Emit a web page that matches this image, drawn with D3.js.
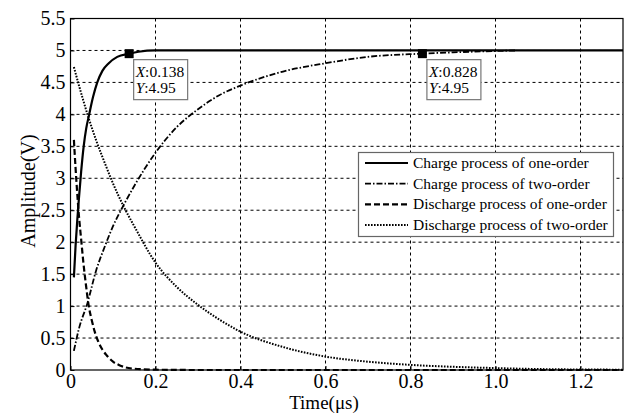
<!DOCTYPE html>
<html><head><meta charset="utf-8">
<script src="https://cdn.jsdelivr.net/npm/d3@7"></script>
<style>body{margin:0;background:#fff}svg{display:block}text{font-family:"Liberation Serif","Times New Roman",serif;fill:#000}</style>
</head><body><svg id="c" width="631" height="415"></svg>
<script>
// ---- data ----
const xTicks = [0, 0.2, 0.4, 0.6, 0.8, 1.0, 1.2];
const xTickLabels = ["0", "0.2", "0.4", "0.6", "0.8", "1.0", "1.2"];
const yTicks = [0, 0.5, 1, 1.5, 2, 2.5, 3, 3.5, 4, 4.5, 5, 5.5];
const yTickLabels = ["0", "0.5", "1", "1.5", "2", "2.5", "3", "3.5", "4", "4.5", "5", "5.5"];
const seriesNames = ["Charge process of one-order", "Charge process of two-order", "Discharge process of one-order", "Discharge process of two-order"];

const chargeOneT = [0.008, 0.012, 0.016, 0.020, 0.025, 0.031, 0.037, 0.044, 0.053, 0.063, 0.075, 0.09, 0.11, 0.138, 0.16, 0.2, 1.3];
const chargeOneV = [1.45, 1.95, 2.35, 2.7, 3.1, 3.5, 3.78, 4.0, 4.27, 4.5, 4.68, 4.8, 4.9, 4.95, 4.98, 5.0, 5.0];

const chargeTwoT = [0.008, 0.02, 0.04, 0.06, 0.08, 0.1, 0.125, 0.15, 0.2, 0.25, 0.3, 0.35, 0.4, 0.5, 0.6, 0.7, 0.828, 0.9, 1.05];
const chargeTwoV = [0.3, 0.65, 1.05, 1.55, 1.92, 2.25, 2.58, 2.88, 3.4, 3.8, 4.08, 4.3, 4.45, 4.67, 4.8, 4.9, 4.95, 4.97, 5.0];

const dischargeOneT = [0.008, 0.012, 0.016, 0.020, 0.025, 0.030, 0.036, 0.043, 0.050, 0.057, 0.065, 0.075, 0.085, 0.1, 0.115, 0.13, 0.15, 0.2, 0.3, 1.3];
const dischargeOneV = [3.6, 3.15, 2.75, 2.4, 2.05, 1.7, 1.35, 1.0, 0.78, 0.6, 0.45, 0.32, 0.23, 0.13, 0.075, 0.04, 0.02, 0.005, 0, 0];

const dischargeTwoT = [0.008, 0.02, 0.04, 0.06, 0.08, 0.1, 0.125, 0.15, 0.2, 0.25, 0.3, 0.35, 0.4, 0.5, 0.6, 0.7, 0.8, 0.9, 1.0, 1.1, 1.3];
const dischargeTwoV = [4.74, 4.45, 4.0, 3.6, 3.25, 2.92, 2.56, 2.25, 1.68, 1.3, 1.02, 0.79, 0.6, 0.36, 0.21, 0.13, 0.08, 0.05, 0.03, 0.015, 0.005];

const tipX = [0.138, 0.828];
const tipY = [4.95, 4.95];

// ---- layout ----
const svg = d3.select("#c");
const L = 70.5, R = 623, T = 18.5, B = 370;
const x = d3.scaleLinear().domain([0, 1.3]).range([L, R]);
const y = d3.scaleLinear().domain([0, 5.5]).range([B, T]);

svg.append("rect").attr("width", 631).attr("height", 415).attr("fill", "#fff");

// grid
const g = svg.append("g");
g.selectAll(".vg").data(xTicks.filter(d => d > 0)).enter().append("line")
  .attr("x1", d => x(d)).attr("x2", d => x(d)).attr("y1", T).attr("y2", B)
  .attr("stroke", "#000").attr("stroke-width", 1).attr("stroke-dasharray", "3,3");
g.selectAll(".hg").data(yTicks.filter(d => d > 0 && d < 5.5)).enter().append("line")
  .attr("x1", L).attr("x2", R).attr("y1", d => y(d)).attr("y2", d => y(d))
  .attr("stroke", "#000").attr("stroke-width", 1).attr("stroke-dasharray", "3,3");

// series
const styles = [
  {w: 2.2, dash: null},
  {w: 1.8, dash: "6,2,1.5,2"},
  {w: 2.2, dash: "6,3"},
  {w: 2, dash: "1.6,1.4"}
];
const series = [
  d3.zip(chargeOneT, chargeOneV),
  d3.zip(chargeTwoT, chargeTwoV),
  d3.zip(dischargeOneT, dischargeOneV),
  d3.zip(dischargeTwoT, dischargeTwoV)
];
const line = d3.line().x(d => x(d[0])).y(d => y(d[1])).curve(d3.curveMonotoneX);
series.forEach((s, i) => {
  svg.append("path").datum(s).attr("d", line).attr("fill", "none")
    .attr("stroke", "#000").attr("stroke-width", styles[i].w)
    .attr("stroke-dasharray", styles[i].dash);
});

// axes
const xa = svg.append("g").attr("transform", `translate(0,${B})`)
  .call(d3.axisBottom(x).tickValues(xTicks).tickFormat((d, i) => xTickLabels[i]).tickSizeInner(-4).tickSizeOuter(0).tickPadding(4));
const ya = svg.append("g").attr("transform", `translate(${L},0)`)
  .call(d3.axisLeft(y).tickValues(yTicks).tickFormat((d, i) => yTickLabels[i]).tickSizeInner(-4).tickSizeOuter(0).tickPadding(5));
[xa, ya].forEach(a => {
  a.select(".domain").remove();
  a.selectAll("line").attr("stroke", "#000");
  a.selectAll("text").attr("font-size", 20);
});

// frame
svg.append("rect").attr("x", L).attr("y", T).attr("width", R - L).attr("height", B - T)
  .attr("fill", "none").attr("stroke", "#000").attr("stroke-width", 1.2);

// axis titles
svg.append("text").attr("x", 324).attr("y", 409).attr("text-anchor", "middle")
  .attr("font-size", 19).text("Time(μs)");
svg.append("text").attr("transform", "translate(35,191) rotate(-90)").attr("text-anchor", "middle")
  .attr("font-size", 20).text("Amplitude(V)");

// data tips
tipX.forEach((tx, i) => {
  const px = x(tx), py = y(tipY[i]);
  const bx = px + 4.5, by = py + 6;
  svg.append("rect").attr("x", bx).attr("y", by).attr("width", 54).attr("height", 40)
    .attr("fill", "#fff").attr("stroke", "#777").attr("stroke-width", 1.2);
  const t1 = svg.append("text").attr("x", bx + 2).attr("y", by + 17).attr("font-size", 15.5);
  t1.append("tspan").attr("font-style", "italic").text("X");
  t1.append("tspan").text(":" + d3.format(".3f")(tx));
  const t2 = svg.append("text").attr("x", bx + 2).attr("y", by + 33).attr("font-size", 15.5);
  t2.append("tspan").attr("font-style", "italic").text("Y");
  t2.append("tspan").text(":" + tipY[i]);
  svg.append("rect").attr("x", px - 4.5).attr("y", py - 4.5).attr("width", 9).attr("height", 9).attr("fill", "#000");
});

// legend
const lg = svg.append("g");
lg.append("rect").attr("x", 358.5).attr("y", 152.5).attr("width", 255).attr("height", 84)
  .attr("fill", "#fff").attr("stroke", "#666").attr("stroke-width", 1.2);
seriesNames.forEach((n, i) => {
  const cy = 163 + i * 20.7;
  lg.append("line").attr("x1", 365).attr("x2", 408).attr("y1", cy).attr("y2", cy)
    .attr("stroke", "#000").attr("stroke-width", styles[i].w).attr("stroke-dasharray", styles[i].dash);
  lg.append("text").attr("x", 413).attr("y", cy + 5).attr("font-size", 15.5).text(n);
});
</script></body></html>
